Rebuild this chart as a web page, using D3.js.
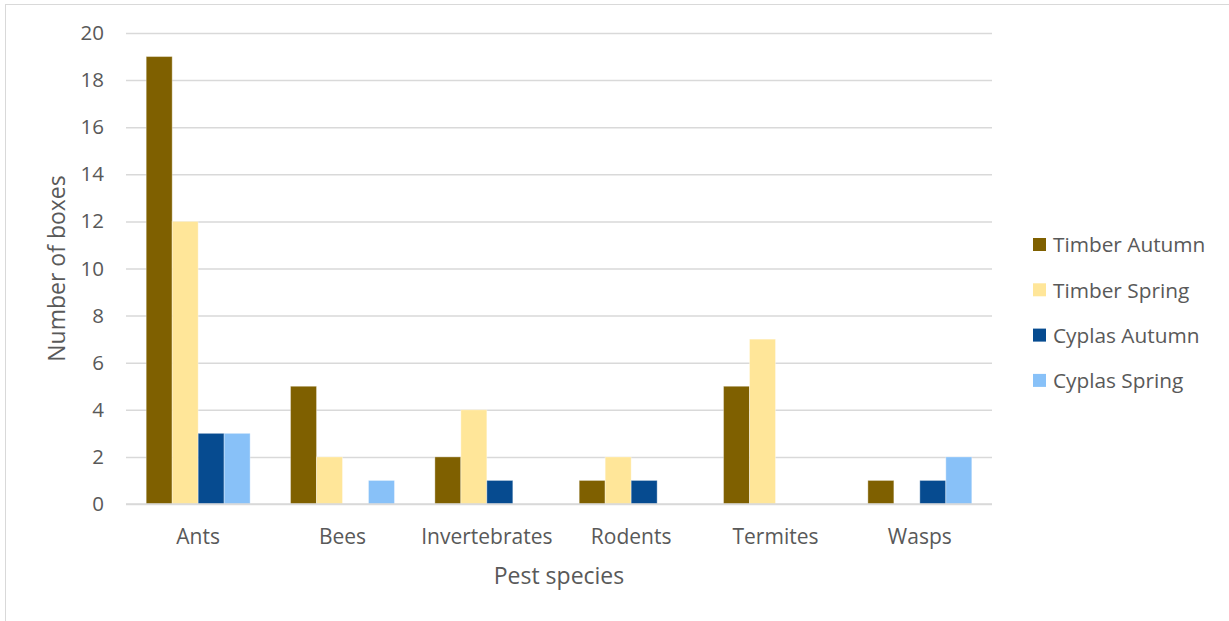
<!DOCTYPE html>
<html>
<head>
<meta charset="utf-8">
<script src="https://cdn.jsdelivr.net/npm/d3@7"></script>
<style>
  html, body { margin: 0; padding: 0; background: #fff; }
  svg { display: block; font-family: "Open Sans", sans-serif; }
</style>
</head>
<body>
<svg id="chart" width="1229" height="621"></svg>
<script>
// Pest sightings per box type and season
const categories = ["Ants", "Bees", "Invertebrates", "Rodents", "Termites", "Wasps"];
const seriesNames = ["Timber Autumn", "Timber Spring", "Cyplas Autumn", "Cyplas Spring"];
const seriesColors = ["#7f6000", "#ffe699", "#064b90", "#88c1f8"];
const timberAutumn = [19, 5, 2, 1, 5, 1];
const timberSpring = [12, 2, 4, 2, 7, 0];
const cyplasAutumn = [3, 0, 1, 1, 0, 1];
const cyplasSpring = [3, 1, 0, 0, 0, 2];
const yTicks = [0, 2, 4, 6, 8, 10, 12, 14, 16, 18, 20];

const seriesValues = [timberAutumn, timberSpring, cyplasAutumn, cyplasSpring];
const rows = [];
categories.forEach((c, i) => {
  seriesNames.forEach((s, j) => rows.push({ cat: c, series: s, value: seriesValues[j][i] }));
});

const svg = d3.select("#chart");
const plot = { left: 126, right: 992, top: 33, bottom: 504 };
const textColor = "#595959";
const font = "'Open Sans', sans-serif";

// outer frame
svg.append("rect")
  .attr("x", 5.5).attr("y", 4.5)
  .attr("width", 1240).attr("height", 640)
  .attr("fill", "none").attr("stroke", "#d9d9d9").attr("stroke-width", 1);

const x = d3.scaleBand().domain(categories).range([plot.left, plot.right]).paddingInner(0).paddingOuter(0);
const groupWidth = x.bandwidth() * 0.72;
const xs = d3.scaleBand().domain(seriesNames)
  .range([(x.bandwidth() - groupWidth) / 2, (x.bandwidth() + groupWidth) / 2]);
const y = d3.scaleLinear().domain([0, 20]).range([plot.bottom, plot.top]);
const color = d3.scaleOrdinal().domain(seriesNames).range(seriesColors);

// gridlines + y labels
const yAxis = d3.axisLeft(y).tickValues(yTicks).tickSize(-(plot.right - plot.left)).tickPadding(22);
const gy = svg.append("g").attr("transform", `translate(${plot.left},0)`).call(yAxis);
gy.select(".domain").remove();
gy.selectAll(".tick line").attr("stroke", "#d9d9d9").attr("stroke-width", 1.5);
gy.selectAll(".tick text")
  .attr("fill", textColor).style("font-size", "20.5px").style("font-family", font);

// bars
svg.append("g").selectAll("rect").data(rows).join("rect")
  .attr("x", d => x(d.cat) + xs(d.series))
  .attr("y", d => y(d.value))
  .attr("width", xs.bandwidth())
  .attr("height", d => y(0) - y(d.value))
  .attr("fill", d => color(d.series))
  .attr("stroke", "#ffffff").attr("stroke-opacity", 0.35).attr("stroke-width", 1);

// x baseline
svg.append("line")
  .attr("x1", plot.left).attr("x2", plot.right)
  .attr("y1", y(0)).attr("y2", y(0))
  .attr("stroke", "#d9d9d9").attr("stroke-width", 1.5);

// x labels
const xAxis = d3.axisBottom(x).tickSize(0).tickPadding(25);
const gx = svg.append("g").attr("transform", `translate(0,${plot.bottom})`).call(xAxis);
gx.select(".domain").remove();
gx.selectAll(".tick text")
  .attr("fill", textColor).style("font-size", "21px").style("font-family", font);

// axis titles
svg.append("text")
  .attr("transform", `translate(65,${(plot.top + plot.bottom) / 2}) rotate(-90)`)
  .attr("text-anchor", "middle")
  .attr("fill", textColor).style("font-size", "23px")
  .text("Number of boxes");
svg.append("text")
  .attr("x", (plot.left + plot.right) / 2).attr("y", 584)
  .attr("text-anchor", "middle")
  .attr("fill", textColor).style("font-size", "23px")
  .text("Pest species");

// legend
const legend = svg.append("g").selectAll("g").data(seriesNames).join("g")
  .attr("transform", (d, i) => `translate(1033,${245 + i * 45.3})`);
legend.append("rect")
  .attr("x", 0).attr("y", -7).attr("width", 13).attr("height", 13)
  .attr("fill", d => color(d));
legend.append("text")
  .attr("x", 20).attr("y", 0).attr("dy", "0.35em")
  .attr("fill", textColor).style("font-size", "20.8px")
  .text(d => d);
</script>
</body>
</html>
